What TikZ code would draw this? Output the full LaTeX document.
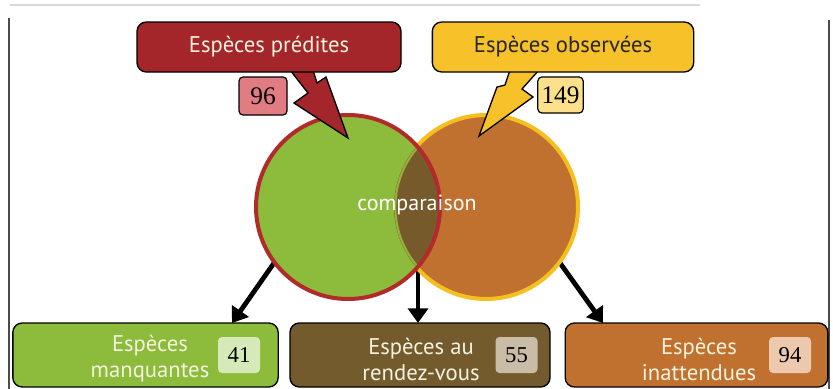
\documentclass[tikz,border=0pt]{standalone}
\usepackage{fontspec}
\setmainfont{PT Sans}
\newfontfamily\numfont{Liberation Serif}
\usetikzlibrary{arrows.meta,calc}
\definecolor{cDarkRed}{HTML}{A4262B}
\definecolor{cYellow}{HTML}{F7C12A}
\definecolor{cGreen}{HTML}{8DBB3B}
\definecolor{cOrange}{HTML}{C0712F}
\definecolor{cOverlap}{HTML}{765A2C}
\definecolor{cBrownBox}{HTML}{735B2E}
\definecolor{cRing}{HTML}{B22A2A}
\definecolor{cYRing}{HTML}{F5BF1F}
\definecolor{cPink}{HTML}{E27C83}
\definecolor{cPaleY}{HTML}{FDE08C}
\definecolor{cPaleG}{HTML}{D6E9B8}
\definecolor{cPaleB}{HTML}{C9BDA8}
\definecolor{cPaleO}{HTML}{ECC9AE}
\definecolor{cText}{HTML}{F5F3E0}
\definecolor{cSeam}{HTML}{9AAE3A}
\tikzset{
  topbox/.style={draw=black, line width=1pt, rounded corners=7pt, text=cText, font=\fontsize{17}{20}\selectfont, inner sep=0pt},
  botbox/.style={draw=black, line width=1pt, rounded corners=7pt, minimum height=48pt, inner sep=0pt},
  bottext/.style={text=cText, align=center, font=\fontsize{17}{19.5}\selectfont, inner sep=0pt},
  numbox/.style={draw=black, line width=0.9pt, rounded corners=3pt, font=\numfont\fontsize{19}{19}\selectfont, inner sep=0pt},
  numsoft/.style={rounded corners=3pt, font=\numfont\fontsize{17}{17}\selectfont, inner sep=0pt, minimum width=31.5pt, minimum height=27pt},
  bigarrow/.style={line width=3.6pt, -{Triangle[length=11pt,width=15pt]}},
  bolt/.style={draw=black, line width=1pt, line join=miter},
  ring/.style={circle, minimum size=138pt, inner sep=0pt}
}
\begin{document}
\begin{tikzpicture}[x=0.75pt,y=-0.75pt]
\useasboundingbox (0,0) rectangle (833,389);
\fill[white] (0,0) rectangle (833,389);
% frame
\draw[black!15, line width=0.8pt] (10,5) -- (700,5);
\draw[black!70, line width=0.8pt] (9,18) -- (9,389);
\draw[black!70, line width=0.8pt] (829,20) -- (829,389);
% circle anchors
\node[ring] (G) at (348,207) {};
\node[ring] (O) at (486,207) {};
% bottom boxes
\node[botbox, fill=cGreen, minimum width=199pt] (B1) at (145.5,355) {};
\node[botbox, fill=cBrownBox, minimum width=195pt] (B2) at (420,355) {};
\node[botbox, fill=cOrange, minimum width=197pt] (B3) at (696.5,355) {};
\node[bottext] (T1) at (150,359) {Espèces\\manquantes};
\node[bottext] (T2) at (421,359) {Espèces au\\rendez-vous};
\node[bottext] (T3) at (699,359) {Espèces\\inattendues};
\node[numsoft, fill=cPaleG] (N1) at (239,355) {41};
\node[numsoft, fill=cPaleB] (N2) at (516.5,355) {55};
\node[numsoft, fill=cPaleO] (N3) at (790,355) {94};
% black arrows
\coordinate (t1) at (232,323);
\coordinate (t2) at (418,323);
\coordinate (t3) at (603,323);
\coordinate (m0) at (418,268);
\draw[bigarrow] (G.217) -- (t1);
\draw[bigarrow] (m0) -- (t2);
\draw[bigarrow] (O.323) -- (t3);
% circles
\fill[cOrange] (O.center) circle (69pt);
\draw[cYRing, line width=3pt] (O.center) circle (69pt);
\fill[cGreen] (G.center) circle (69pt);
\begin{scope}
  \clip (G.center) circle (69pt);
  \fill[cOverlap] (O.center) circle (69pt);
  \draw[cSeam, line width=1.6pt] (O.center) circle (68pt);
\end{scope}
\draw[cRing, line width=3pt] (G.center) circle (69pt);
\node[text=white, font=\fontsize{16.5}{16.5}\selectfont, inner sep=0pt] (C) at (417,205) {comparaison};
% lightning arrows
\filldraw[bolt, fill=cDarkRed] (290,70) -- (313,70) -- (317,83) -- (326,77) -- (348,138) -- (294,103) -- (308,93) -- cycle;
\filldraw[bolt, fill=cYellow] (510,70) -- (539,70) -- (522,89) -- (533,97) -- (479,136) -- (497,87) -- (505,85) -- cycle;
% top boxes
\node[topbox, fill=cDarkRed, minimum width=198pt, minimum height=37.5pt] (P) at (269,47) {Espèces prédites};
\node[topbox, fill=cYellow, text=black!85, minimum width=196pt, minimum height=37.5pt] (Q) at (563,47) {Espèces observées};
\node[numbox, fill=cPink, minimum width=36pt, minimum height=28.5pt] (N96) at (263,96) {96};
\node[numbox, fill=cPaleY, minimum width=34pt, minimum height=27pt] (N149) at (560.5,95) {149};
\end{tikzpicture}
\end{document}
